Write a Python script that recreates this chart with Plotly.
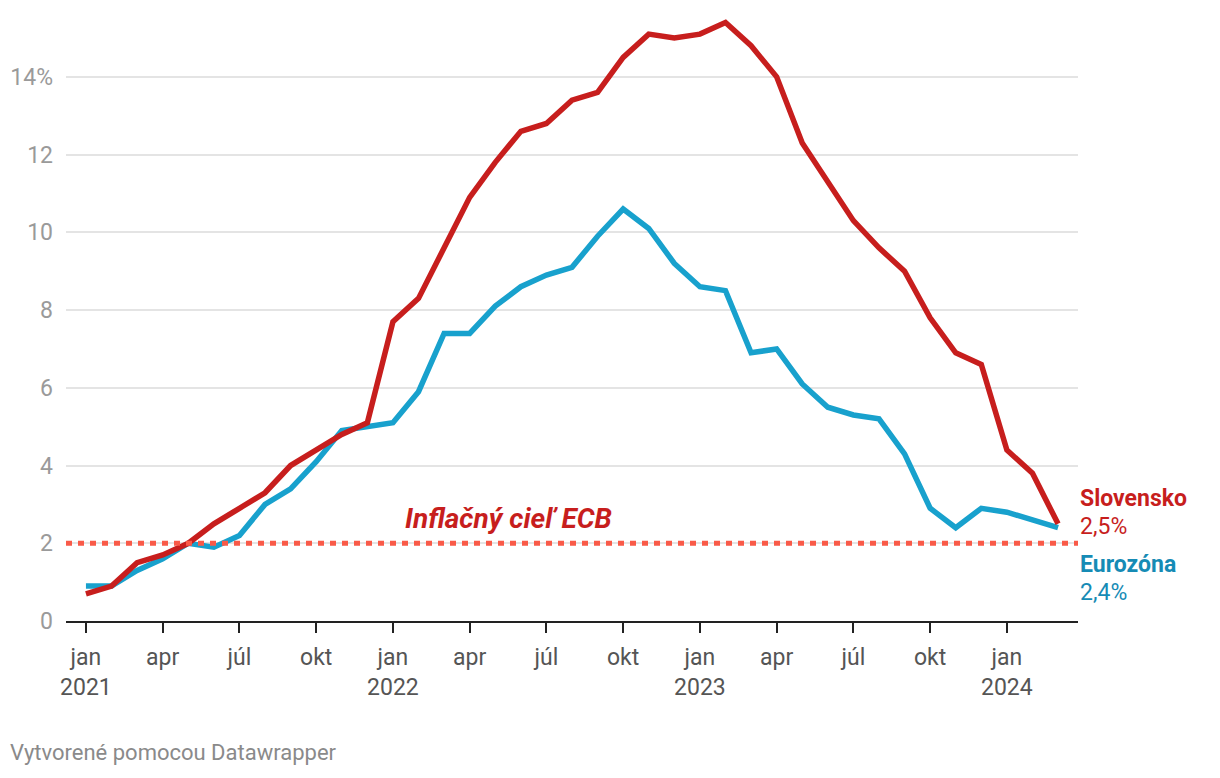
import plotly.graph_objects as go

# ---- data ----
months = ["jan", "feb", "mar", "apr", "máj", "jún", "júl", "aug", "sep", "okt", "nov", "dec"]
years = [2021, 2022, 2023, 2024]
n_points = 39  # jan 2021 .. mar 2024

slovensko = [0.7, 0.9, 1.5, 1.7, 2.0, 2.5, 2.9, 3.3, 4.0, 4.4, 4.8, 5.1,
             7.7, 8.3, 9.6, 10.9, 11.8, 12.6, 12.8, 13.4, 13.6, 14.5, 15.1, 15.0,
             15.1, 15.4, 14.8, 14.0, 12.3, 11.3, 10.3, 9.6, 9.0, 7.8, 6.9, 6.6,
             4.4, 3.8, 2.5]
eurozona = [0.9, 0.9, 1.3, 1.6, 2.0, 1.9, 2.2, 3.0, 3.4, 4.1, 4.9, 5.0,
            5.1, 5.9, 7.4, 7.4, 8.1, 8.6, 8.9, 9.1, 9.9, 10.6, 10.1, 9.2,
            8.6, 8.5, 6.9, 7.0, 6.1, 5.5, 5.3, 5.2, 4.3, 2.9, 2.4, 2.9,
            2.8, 2.6, 2.4]
ecb_target = 2.0

y_ticks = [0, 2, 4, 6, 8, 10, 12, 14]
y_ticktext = ["0", "2", "4", "6", "8", "10", "12", "14%"]

x = list(range(n_points))
x_ticks = list(range(0, n_points, 3))
x_ticktext = []
for i in x_ticks:
    m = months[i % 12]
    if i % 12 == 0:
        x_ticktext.append(f"{m}<br>{years[i // 12]}")
    else:
        x_ticktext.append(m)

RED = "#c71e1d"
BLUE = "#18a1cd"
BLUE_TXT = "#168bb5"
FONT = "Roboto"

fig = go.Figure()
fig.add_trace(go.Scatter(x=x, y=eurozona, mode="lines", name="Eurozóna",
                         line=dict(color=BLUE, width=5.5), hoverinfo="skip"))
fig.add_trace(go.Scatter(x=x, y=slovensko, mode="lines", name="Slovensko",
                         line=dict(color=RED, width=5.5), hoverinfo="skip"))

fig.add_shape(type="line", xref="paper", yref="y", x0=0, x1=1,
              y0=ecb_target, y1=ecb_target,
              line=dict(color="#f95a48", width=5, dash="6px,6px"), layer="above")

fig.add_annotation(text="<b><i>Inflačný cieľ ECB</i></b>", x=16.52, y=ecb_target,
                   xref="x", yref="y", yanchor="middle", yshift=25, showarrow=False,
                   font=dict(family=FONT, size=28, color=RED))

def fmt(v):
    return f"{v:.1f}".replace(".", ",") + "%"

LBL = 23
fig.add_annotation(text="<b>Slovensko</b>", x=1, xref="paper", y=slovensko[-1], yref="y",
                   xanchor="left", yanchor="middle", yshift=25, showarrow=False,
                   font=dict(family=FONT, size=LBL, color=RED))
fig.add_annotation(text=fmt(slovensko[-1]), x=1, xref="paper", y=slovensko[-1], yref="y",
                   xanchor="left", yanchor="middle", yshift=-3, showarrow=False,
                   font=dict(family=FONT, size=LBL, color=RED))
fig.add_annotation(text="<b>Eurozóna</b>", x=1, xref="paper", y=eurozona[-1], yref="y",
                   xanchor="left", yanchor="middle", yshift=-37, showarrow=False,
                   font=dict(family=FONT, size=LBL, color=BLUE_TXT))
fig.add_annotation(text=fmt(eurozona[-1]), x=1, xref="paper", y=eurozona[-1], yref="y",
                   xanchor="left", yanchor="middle", yshift=-65, showarrow=False,
                   font=dict(family=FONT, size=LBL, color=BLUE_TXT))

fig.add_annotation(text="Vytvorené pomocou Datawrapper", x=0, xref="paper", xanchor="left",
                   xshift=-58, y=-0.216, yref="paper", yanchor="middle", showarrow=False,
                   font=dict(family=FONT, size=22, color="#8a8a8a"))

fig.update_layout(
    width=1212, height=770,
    margin=dict(l=58, r=142, t=2, b=157),
    paper_bgcolor="white", plot_bgcolor="white",
    showlegend=False,
    font=dict(family=FONT),
    xaxis=dict(range=[-0.78, 38.78], tickmode="array", tickvals=x_ticks, ticktext=x_ticktext,
               showgrid=False, zeroline=False, showline=True, linecolor="#222", linewidth=2,
               ticks="outside", ticklen=10, tickwidth=2, tickcolor="#222", ticklabelstandoff=4,
               tickfont=dict(family=FONT, size=23, color="#555")),
    yaxis=dict(range=[0, 15.72], tickmode="array", tickvals=y_ticks, ticktext=y_ticktext,
               showgrid=True, gridcolor="#e4e4e4", gridwidth=1.5, zeroline=False,
               showline=False, ticks="", ticklabelstandoff=12,
               tickfont=dict(family=FONT, size=23, color="#9a9a9a")),
)

fig.write_html("out.html")
